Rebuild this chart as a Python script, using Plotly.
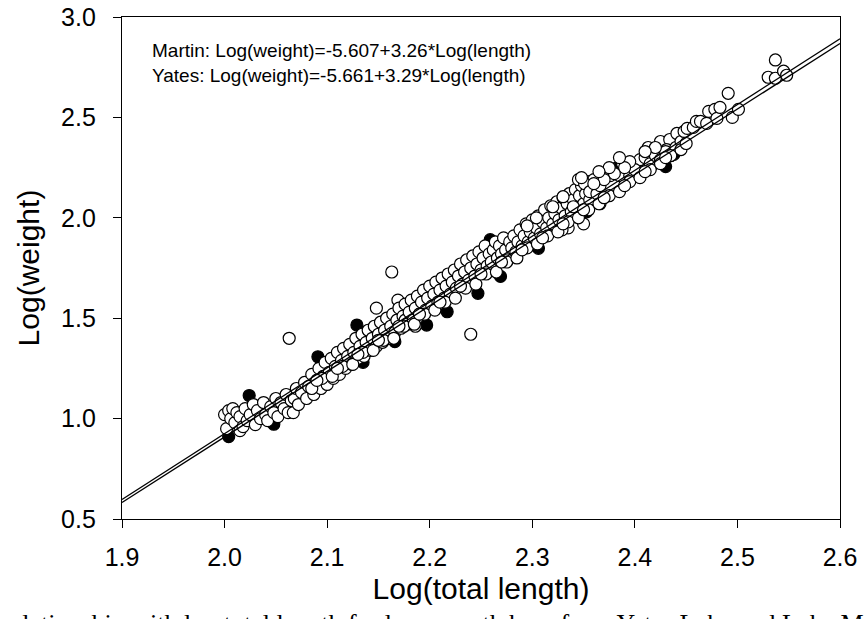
import plotly.graph_objects as go

# open circles: log(total length), log(weight)
open_len = [
    2.000, 2.002, 2.004, 2.006, 2.008, 2.010, 2.012, 2.015, 2.015, 2.018, 2.020, 2.022, 2.025, 2.028, 2.030, 2.032,
    2.035, 2.038, 2.040, 2.042, 2.045, 2.048, 2.050, 2.052, 2.055, 2.058, 2.060, 2.062, 2.065, 2.067, 2.063, 2.074,
    2.068, 2.070, 2.072, 2.075, 2.078, 2.080, 2.082, 2.085, 2.087, 2.090, 2.092, 2.094, 2.096, 2.098, 2.100, 2.102,
    2.104, 2.106, 2.108, 2.110, 2.112, 2.114, 2.116, 2.118, 2.120, 2.122, 2.124, 2.126, 2.128, 2.130,
    2.132, 2.134, 2.136, 2.138, 2.140, 2.142, 2.144, 2.146, 2.148, 2.148, 2.150, 2.152, 2.154, 2.156, 2.158, 2.160,
    2.162, 2.163, 2.164, 2.166, 2.168, 2.169, 2.170, 2.172, 2.174, 2.176, 2.176, 2.178, 2.180, 2.182, 2.184, 2.186,
    2.186, 2.188, 2.190, 2.192, 2.194, 2.196, 2.198, 2.200,
    2.202, 2.204, 2.206, 2.208, 2.210, 2.212, 2.214, 2.216, 2.218, 2.220, 2.222, 2.224, 2.226, 2.228, 2.230, 2.232,
    2.234, 2.236, 2.238, 2.240, 2.242, 2.244, 2.246, 2.248, 2.250, 2.252, 2.254, 2.256, 2.258, 2.260, 2.262, 2.264,
    2.266, 2.268, 2.270, 2.272, 2.274, 2.276, 2.278, 2.280, 2.240,
    2.282, 2.284, 2.286, 2.288, 2.290, 2.292, 2.294, 2.296, 2.298, 2.300, 2.302, 2.304, 2.306, 2.308, 2.310, 2.312,
    2.314, 2.316, 2.318, 2.320, 2.322, 2.324, 2.326, 2.328, 2.330, 2.332, 2.334, 2.336, 2.338, 2.340, 2.342, 2.344,
    2.346, 2.348, 2.350, 2.352, 2.354, 2.356, 2.358, 2.360, 2.345, 2.350, 2.335, 2.304, 2.295, 2.329, 2.320, 2.340,
    2.330,
    2.351, 2.348, 2.356, 2.363, 2.366, 2.366, 2.376, 2.385, 2.388, 2.395, 2.405, 2.413, 2.425, 2.434, 2.444, 2.431,
    2.441, 2.400, 2.410, 2.415, 2.420, 2.425, 2.430, 2.435, 2.440, 2.445, 2.420, 2.410, 2.395, 2.390, 2.380, 2.375,
    2.370, 2.365, 2.360, 2.385,
    2.448, 2.451, 2.457, 2.460, 2.464, 2.470, 2.472, 2.478, 2.480, 2.483, 2.491, 2.495, 2.501, 2.530, 2.537, 2.537,
    2.545, 2.548,
    # lower side of the band
    2.085, 2.095, 2.105, 2.115, 2.125, 2.135, 2.145, 2.155, 2.165, 2.175, 2.185, 2.195, 2.205, 2.215, 2.225, 2.235,
    2.245, 2.255, 2.265, 2.275, 2.285, 2.295, 2.305, 2.315, 2.325, 2.335, 2.345, 2.355, 2.365, 2.375, 2.385, 2.395,
    2.405, 2.415, 2.425, 2.435, 2.445,
    2.090, 2.110, 2.130, 2.150, 2.170, 2.190, 2.210, 2.230, 2.250, 2.270, 2.290, 2.310, 2.330, 2.350, 2.370, 2.390,
    2.410, 2.430, 2.450,
]
open_wt = [
    1.02, 0.95, 1.04, 1.00, 1.05, 0.98, 1.03, 1.01, 0.94, 0.96, 1.05, 0.99, 1.02, 1.07, 0.97, 1.04,
    1.00, 1.08, 1.02, 0.99, 1.06, 1.03, 1.10, 1.01, 1.08, 1.05, 1.12, 1.03, 1.09, 1.03, 1.40, 1.14,
    1.10, 1.15, 1.07, 1.13, 1.18, 1.10, 1.16, 1.22, 1.12, 1.19, 1.25, 1.15, 1.21, 1.28, 1.17, 1.23,
    1.30, 1.20, 1.26, 1.33, 1.22, 1.29, 1.35, 1.25, 1.31, 1.37, 1.27, 1.33, 1.40, 1.30,
    1.36, 1.42, 1.31, 1.38, 1.44, 1.34, 1.40, 1.46, 1.36, 1.55, 1.42, 1.48, 1.38, 1.44, 1.50, 1.40,
    1.46, 1.73, 1.52, 1.43, 1.49, 1.59, 1.55, 1.45, 1.51, 1.57, 1.49, 1.47, 1.53, 1.59, 1.49, 1.55,
    1.46, 1.61, 1.52, 1.58, 1.64, 1.54, 1.60, 1.66,
    1.56, 1.62, 1.68, 1.58, 1.64, 1.70, 1.60, 1.66, 1.72, 1.62, 1.68, 1.74, 1.65, 1.71, 1.77, 1.67,
    1.73, 1.79, 1.69, 1.75, 1.81, 1.71, 1.77, 1.83, 1.74, 1.80, 1.86, 1.76, 1.82, 1.78, 1.84, 1.88,
    1.80, 1.86, 1.82, 1.90, 1.84, 1.79, 1.88, 1.85, 1.42,
    1.91, 1.83, 1.88, 1.94, 1.86, 1.91, 1.97, 1.88, 1.93, 1.99, 1.90, 1.95, 2.01, 1.92, 1.98, 2.04,
    1.95, 2.00, 2.06, 1.97, 2.02, 2.08, 1.99, 2.05, 2.10, 2.01, 2.07, 2.12, 2.03, 2.09, 2.14, 2.05,
    2.11, 2.16, 2.07, 2.12, 2.18, 2.09, 2.14, 2.19, 2.19, 1.97, 1.95, 2.00, 1.96, 1.94, 2.055, 2.055,
    2.105,
    2.17, 2.20, 2.13, 2.12, 2.16, 2.07, 2.21, 2.21, 2.27, 2.21, 2.29, 2.35, 2.38, 2.39, 2.36, 2.34,
    2.42, 2.24, 2.30, 2.27, 2.31, 2.29, 2.33, 2.31, 2.35, 2.38, 2.35, 2.33, 2.28, 2.25, 2.22, 2.25,
    2.19, 2.23, 2.17, 2.30,
    2.43, 2.445, 2.45, 2.48, 2.48, 2.47, 2.53, 2.54, 2.495, 2.55, 2.62, 2.50, 2.54, 2.70, 2.695, 2.786,
    2.73, 2.71,
    1.15, 1.20, 1.21, 1.26, 1.27, 1.33, 1.34, 1.39, 1.40, 1.46, 1.47, 1.52, 1.54, 1.58, 1.60, 1.65,
    1.67, 1.72, 1.73, 1.78, 1.80, 1.85, 1.87, 1.91, 1.93, 1.98, 2.00, 2.04, 2.07, 2.11, 2.13, 2.18,
    2.20, 2.24, 2.27, 2.31, 2.34,
    1.19, 1.25, 1.32, 1.39, 1.46, 1.52, 1.58, 1.66, 1.72, 1.78, 1.84, 1.90, 1.97, 2.04, 2.10, 2.16,
    2.23, 2.30, 2.37,
]

# filled circles
filled_len = [2.004, 2.024, 2.048, 2.091, 2.100, 2.129, 2.135, 2.166, 2.197, 2.217,
              2.247, 2.259, 2.269, 2.306, 2.334, 2.353, 2.382, 2.416, 2.430, 2.438]
filled_wt = [0.910, 1.115, 0.972, 1.308, 1.195, 1.466, 1.280, 1.383, 1.466, 1.532,
             1.624, 1.891, 1.708, 1.848, 1.964, 2.030, 2.247, 2.258, 2.255, 2.316]

# regression lines as drawn, read at the axis ends
line_x = [1.9, 2.6]
martin_line = [0.582, 2.868]
yates_line = [0.597, 2.892]

caption = 'relationship with log total length for largemouth bass from Yates Lake and Lake Martin'

sans = 'Liberation Sans, Arial'

fig = go.Figure()

fig.add_trace(go.Scatter(x=filled_len, y=filled_wt, mode='markers',
                         marker=dict(size=12, color='black', line=dict(color='black', width=1.2))))
fig.add_trace(go.Scatter(x=open_len, y=open_wt, mode='markers',
                         marker=dict(size=12, color='white', line=dict(color='black', width=1.2))))

for ys in (martin_line, yates_line):
    fig.add_trace(go.Scatter(x=line_x, y=ys, mode='lines', line=dict(color='black', width=1.3)))

axis_common = dict(showgrid=False, zeroline=False, showline=True, linecolor='black', linewidth=1.3,
                   mirror=True, ticks='outside', ticklen=8, tickwidth=1.3, tickcolor='black',
                   ticklabeloverflow='allow',
                   tickfont=dict(family=sans, size=25, color='black'))

fig.update_xaxes(range=[1.9, 2.6], dtick=0.1, tickformat='.1f', ticklabelstandoff=8,
                 title=dict(text='Log(total length)', standoff=7,
                            font=dict(family=sans, size=30, color='black')),
                 **axis_common)
fig.update_yaxes(range=[0.5, 3.0], dtick=0.5, tickformat='.1f', ticklabelstandoff=12,
                 title=dict(text='Log(weight)', standoff=12,
                            font=dict(family=sans, size=30, color='black')),
                 **axis_common)

fig.add_annotation(xref='paper', yref='paper', x=0.039, y=0.958, xanchor='left', yanchor='top',
                   align='left', showarrow=False,
                   text='Martin: Log(weight)=-5.607+3.26*Log(length)<br>'
                        'Yates: Log(weight)=-5.661+3.29*Log(length)',
                   font=dict(family=sans, size=19, color='black'))

fig.add_annotation(xref='paper', yref='paper', x=-0.17, y=-0.176, xanchor='left', yanchor='top',
                   showarrow=False, text=caption,
                   font=dict(family='Liberation Serif, Times New Roman', size=26, color='black'))

fig.update_layout(width=866, height=619, showlegend=False, hovermode=False,
                  margin=dict(l=122, r=26, t=17, b=100, autoexpand=False),
                  plot_bgcolor='white', paper_bgcolor='white')

# drop the default 8px page margin so the figure fills the window
fig.write_html("out.html", config={'displayModeBar': False},
               post_script="document.body.style.margin = '0px';")
